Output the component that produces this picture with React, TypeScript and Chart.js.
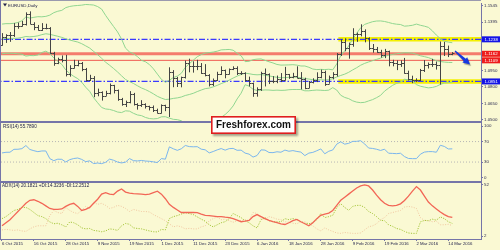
import React, { useEffect, useRef } from 'react';
import { Chart, registerables } from 'chart.js';

Chart.register(...registerables);

const FONT = '"Liberation Sans", Arial, sans-serif';
const BG = '#FAF9D3';
const AXIS = '#7575A8';

// ---------- x axis ----------
const tickIndex = [0, 8, 16, 24, 32, 40, 48, 56, 64, 72, 80, 88, 96, 104, 112];
const tickLabels = ['6 Oct 2015', '16 Oct 2015', '28 Oct 2015', '9 Nov 2015', '19 Nov 2015', '1 Dec 2015', '11 Dec 2015', '23 Dec 2015', '6 Jan 2016', '18 Jan 2016', '28 Jan 2016', '9 Feb 2016', '19 Feb 2016', '2 Mar 2016', '14 Mar 2016'];

// ---------- EURUSD daily OHLC ----------
const opens = [
  1.1190, 1.1255, 1.1274, 1.1276, 1.1358, 1.1359, 1.1376, 1.1474, 1.1382, 1.1350,
  1.1325, 1.1344, 1.1344, 1.1109, 1.1017, 1.1053, 1.1046, 1.0923, 1.0977, 1.1004,
  1.1016, 1.0962, 1.0863, 1.0880, 1.0742, 1.0753, 1.0721, 1.0747, 1.0814, 1.0768,
  1.0686, 1.0644, 1.0659, 1.0733, 1.0646, 1.0635, 1.0644, 1.0623, 1.0613, 1.0592,
  1.0565, 1.0632, 1.0613, 1.0939, 1.0883, 1.0838, 1.0893, 1.1025, 1.0995, 1.0989,
  1.0995, 1.0932, 1.0914, 1.0829, 1.0867, 1.0917, 1.0958, 1.0918, 1.0963, 1.0970,
  1.0926, 1.0930, 1.0860, 1.0833, 1.0747, 1.0781, 1.0927, 1.0921, 1.0857, 1.0853,
  1.0875, 1.0864, 1.0916, 1.0890, 1.0905, 1.0887, 1.0875, 1.0795, 1.0845, 1.0860,
  1.0894, 1.0935, 1.0830, 1.0888, 1.0919, 1.1105, 1.1210, 1.1157, 1.1193, 1.1288,
  1.1290, 1.1319, 1.1254, 1.1156, 1.1146, 1.1125, 1.1096, 1.1131, 1.1027, 1.1021,
  1.1014, 1.1023, 1.0933, 1.0872, 1.0868, 1.0867, 1.0953, 1.1000, 1.1011, 1.1011,
  1.0999, 1.1177, 1.1153, 1.1101,
];
const highs = [
  1.1295, 1.1285, 1.1305, 1.1387, 1.1392, 1.1407, 1.1486, 1.1495, 1.1395, 1.1370,
  1.1387, 1.1381, 1.1350, 1.1123, 1.1069, 1.1090, 1.1095, 1.1000, 1.1050, 1.1045,
  1.1030, 1.0975, 1.0912, 1.0900, 1.0785, 1.0760, 1.0765, 1.0832, 1.0820, 1.0776,
  1.0700, 1.0675, 1.0762, 1.0746, 1.0651, 1.0679, 1.0650, 1.0628, 1.0630, 1.0601,
  1.0640, 1.0637, 1.0981, 1.0955, 1.0893, 1.0895, 1.1043, 1.1060, 1.1036, 1.1050,
  1.1020, 1.1010, 1.0918, 1.0878, 1.0940, 1.0990, 1.0960, 1.0970, 1.0990, 1.0990,
  1.0945, 1.0935, 1.0895, 1.0840, 1.0797, 1.0940, 1.0970, 1.0925, 1.0900, 1.0905,
  1.0928, 1.0985, 1.0920, 1.0930, 1.0990, 1.0937, 1.0885, 1.0855, 1.0880, 1.0935,
  1.0960, 1.0950, 1.0905, 1.0936, 1.1112, 1.1238, 1.1247, 1.1208, 1.1340, 1.1300,
  1.1376, 1.1330, 1.1256, 1.1195, 1.1168, 1.1142, 1.1150, 1.1134, 1.1050, 1.1045,
  1.1045, 1.1067, 1.0950, 1.0904, 1.0880, 1.0966, 1.1047, 1.1025, 1.1058, 1.1034,
  1.1218, 1.1215, 1.1180, 1.1120,
];
const lows = [
  1.1180, 1.1205, 1.1215, 1.1260, 1.1335, 1.1355, 1.1365, 1.1378, 1.1322, 1.1318,
  1.1315, 1.1330, 1.1106, 1.0995, 1.1010, 1.1026, 1.0897, 1.0895, 1.0970, 1.0990,
  1.0945, 1.0850, 1.0855, 1.0706, 1.0715, 1.0675, 1.0718, 1.0732, 1.0741, 1.0673,
  1.0628, 1.0616, 1.0650, 1.0630, 1.0592, 1.0617, 1.0602, 1.0585, 1.0570, 1.0558,
  1.0557, 1.0578, 1.0524, 1.0798, 1.0800, 1.0797, 1.0878, 1.0935, 1.0932, 1.0955,
  1.0920, 1.0898, 1.0805, 1.0808, 1.0855, 1.0910, 1.0880, 1.0915, 1.0955, 1.0910,
  1.0910, 1.0850, 1.0805, 1.0710, 1.0711, 1.0764, 1.0805, 1.0827, 1.0835, 1.0835,
  1.0845, 1.0860, 1.0875, 1.0880, 1.0880, 1.0778, 1.0780, 1.0790, 1.0833, 1.0845,
  1.0880, 1.0810, 1.0830, 1.0870, 1.0896, 1.1085, 1.1128, 1.1060, 1.1170, 1.1215,
  1.1265, 1.1210, 1.1140, 1.1115, 1.1113, 1.1070, 1.1065, 1.0990, 1.0990, 1.0955,
  1.0985, 1.0922, 1.0859, 1.0835, 1.0845, 1.0855, 1.0938, 1.0970, 1.0985, 1.0960,
  1.0822, 1.1085, 1.1075, 1.1092,
];
const closes = [
  1.1255, 1.1274, 1.1276, 1.1358, 1.1359, 1.1376, 1.1474, 1.1382, 1.1350, 1.1325,
  1.1344, 1.1344, 1.1109, 1.1017, 1.1053, 1.1046, 1.0923, 1.0977, 1.1004, 1.1016,
  1.0962, 1.0863, 1.0880, 1.0742, 1.0753, 1.0721, 1.0747, 1.0814, 1.0768, 1.0686,
  1.0644, 1.0659, 1.0733, 1.0646, 1.0635, 1.0644, 1.0623, 1.0613, 1.0592, 1.0565,
  1.0632, 1.0613, 1.0939, 1.0883, 1.0838, 1.0893, 1.1025, 1.0995, 1.0989, 1.0995,
  1.0932, 1.0914, 1.0829, 1.0867, 1.0917, 1.0958, 1.0918, 1.0963, 1.0970, 1.0926,
  1.0930, 1.0860, 1.0833, 1.0747, 1.0781, 1.0927, 1.0921, 1.0857, 1.0853, 1.0875,
  1.0864, 1.0916, 1.0890, 1.0905, 1.0887, 1.0875, 1.0795, 1.0845, 1.0860, 1.0894,
  1.0935, 1.0830, 1.0888, 1.0919, 1.1105, 1.1210, 1.1157, 1.1193, 1.1288, 1.1290,
  1.1319, 1.1254, 1.1156, 1.1146, 1.1125, 1.1096, 1.1131, 1.1027, 1.1021, 1.1014,
  1.1023, 1.0933, 1.0872, 1.0868, 1.0867, 1.0953, 1.1000, 1.1011, 1.1011, 1.0999,
  1.1177, 1.1153, 1.1101, 1.1108,
];

// ---------- Bollinger bands ----------
const bbUpper = [
  1.1378, 1.1382, 1.1382, 1.1385, 1.1393, 1.1409, 1.1444, 1.1433, 1.1440, 1.1446,
  1.1445, 1.1449, 1.1460, 1.1483, 1.1496, 1.1504, 1.1529, 1.1540, 1.1546, 1.1549,
  1.1552, 1.1558, 1.1556, 1.1553, 1.1539, 1.1516, 1.1458, 1.1406, 1.1356, 1.1306,
  1.1241, 1.1157, 1.1122, 1.1106, 1.1079, 1.1045, 1.1032, 1.1006, 1.0967, 1.0918,
  1.0870, 1.0843, 1.0862, 1.0887, 1.0900, 1.0926, 1.0980, 1.1013, 1.1046, 1.1078,
  1.1098, 1.1111, 1.1116, 1.1121, 1.1129, 1.1141, 1.1143, 1.1145, 1.1138, 1.1110,
  1.1087, 1.1033, 1.1036, 1.1051, 1.1056, 1.1058, 1.1045, 1.1032, 1.1021, 1.1007,
  1.1001, 1.1002, 1.1003, 1.1005, 1.1001, 1.0993, 1.0993, 1.0981, 1.0965, 1.0960,
  1.0962, 1.0960, 1.0963, 1.0958, 1.1012, 1.1088, 1.1132, 1.1177, 1.1241, 1.1293,
  1.1344, 1.1375, 1.1388, 1.1400, 1.1406, 1.1407, 1.1402, 1.1393, 1.1383, 1.1377,
  1.1374, 1.1359, 1.1362, 1.1367, 1.1378, 1.1367, 1.1359, 1.1348, 1.1316, 1.1277,
  1.1244, 1.1221, 1.1212, 1.1207,
];
const bbMiddle = [
  1.1242, 1.1246, 1.1246, 1.1247, 1.1249, 1.1255, 1.1264, 1.1261, 1.1264, 1.1270,
  1.1281, 1.1289, 1.1284, 1.1275, 1.1266, 1.1256, 1.1243, 1.1232, 1.1222, 1.1213,
  1.1198, 1.1178, 1.1158, 1.1127, 1.1097, 1.1064, 1.1028, 1.1000, 1.0970, 1.0938,
  1.0903, 1.0869, 1.0850, 1.0832, 1.0811, 1.0791, 1.0776, 1.0758, 1.0737, 1.0714,
  1.0698, 1.0685, 1.0688, 1.0695, 1.0700, 1.0708, 1.0722, 1.0731, 1.0742, 1.0758,
  1.0772, 1.0785, 1.0790, 1.0801, 1.0815, 1.0831, 1.0845, 1.0863, 1.0882, 1.0900,
  1.0915, 1.0927, 1.0922, 1.0915, 1.0912, 1.0914, 1.0909, 1.0902, 1.0895, 1.0889,
  1.0885, 1.0886, 1.0889, 1.0891, 1.0889, 1.0885, 1.0879, 1.0873, 1.0867, 1.0866,
  1.0866, 1.0864, 1.0867, 1.0876, 1.0892, 1.0906, 1.0918, 1.0935, 1.0957, 1.0977,
  1.1000, 1.1017, 1.1030, 1.1042, 1.1054, 1.1065, 1.1082, 1.1091, 1.1099, 1.1105,
  1.1110, 1.1115, 1.1114, 1.1111, 1.1100, 1.1087, 1.1079, 1.1070, 1.1056, 1.1041,
  1.1034, 1.1029, 1.1026, 1.1025,
];
const bbLower = [
  1.1106, 1.1110, 1.1110, 1.1109, 1.1105, 1.1101, 1.1084, 1.1089, 1.1088, 1.1094,
  1.1117, 1.1129, 1.1108, 1.1067, 1.1036, 1.1008, 1.0957, 1.0924, 1.0898, 1.0877,
  1.0844, 1.0798, 1.0760, 1.0701, 1.0655, 1.0612, 1.0598, 1.0594, 1.0584, 1.0570,
  1.0565, 1.0581, 1.0578, 1.0558, 1.0543, 1.0537, 1.0520, 1.0510, 1.0507, 1.0510,
  1.0526, 1.0527, 1.0514, 1.0503, 1.0500, 1.0490, 1.0464, 1.0449, 1.0438, 1.0438,
  1.0446, 1.0459, 1.0464, 1.0481, 1.0501, 1.0521, 1.0547, 1.0581, 1.0626, 1.0690,
  1.0743, 1.0821, 1.0808, 1.0779, 1.0768, 1.0770, 1.0773, 1.0772, 1.0769, 1.0771,
  1.0769, 1.0770, 1.0775, 1.0777, 1.0777, 1.0777, 1.0765, 1.0765, 1.0769, 1.0772,
  1.0770, 1.0768, 1.0771, 1.0794, 1.0772, 1.0724, 1.0704, 1.0693, 1.0673, 1.0661,
  1.0656, 1.0659, 1.0672, 1.0684, 1.0702, 1.0723, 1.0762, 1.0789, 1.0815, 1.0833,
  1.0846, 1.0871, 1.0866, 1.0855, 1.0822, 1.0807, 1.0799, 1.0792, 1.0796, 1.0805,
  1.0824, 1.0837, 1.0840, 1.0843,
];

// ---------- RSI(14) ----------
const rsi = [
  47.8, 49.1, 49.2, 54.9, 55.0, 56.2, 62.3, 54.6, 52.2, 50.3,
  51.7, 51.7, 36.7, 32.7, 35.6, 35.3, 30.1, 34.7, 36.9, 37.9,
  35.2, 30.8, 32.3, 27.0, 28.1, 26.9, 29.5, 35.7, 33.5, 30.0,
  28.3, 29.8, 36.8, 32.7, 32.2, 33.1, 32.0, 31.5, 30.4, 29.0,
  36.8, 35.6, 59.7, 55.9, 52.9, 56.0, 62.4, 60.2, 59.8, 60.1,
  55.2, 53.9, 47.9, 50.6, 53.8, 56.4, 53.3, 56.2, 56.7, 53.0,
  53.3, 47.5, 45.5, 39.7, 42.8, 53.8, 53.4, 48.7, 48.4, 50.1,
  49.2, 53.4, 51.1, 52.4, 50.7, 49.5, 42.6, 47.5, 48.9, 52.1,
  55.7, 46.2, 51.1, 53.6, 65.0, 69.6, 65.0, 66.6, 70.4, 70.5,
  71.7, 65.5, 57.4, 56.6, 55.0, 52.7, 55.1, 47.3, 46.9, 46.4,
  47.2, 40.7, 37.0, 36.7, 36.7, 45.4, 49.5, 50.4, 50.4, 49.2,
  62.8, 60.5, 55.6, 55.8,
];
const rsiTicks = [100, 70, 30, 0];
const rsiLevels = [70, 30];

// ---------- ADX(14) ----------
const adx = [
  12, 15, 18, 22, 26, 30, 34, 37, 37.5, 36,
  34, 31.5, 29, 28, 28, 28.5, 31, 33, 34, 31,
  27, 28, 30, 34, 38, 43, 44.5, 43, 42.6, 46,
  48, 45, 44, 43.5, 43.3, 43, 42.6, 43, 44.5, 45.8,
  43, 38.5, 33, 30, 27.5, 25, 25, 25, 25, 24.9,
  23.5, 22.3, 22, 21.5, 21, 21, 20.5, 20.1, 19, 17.5,
  16, 16.5, 17.3, 21, 23, 21, 19, 17.3, 16, 15,
  14, 13.3, 15, 17, 18.2, 16, 14, 12, 15, 19,
  22.3, 23.5, 24.5, 27, 32, 37, 40, 43, 46, 49,
  51, 52, 51, 47, 42, 37.5, 34, 32, 31.5, 32,
  33.5, 36.8, 41, 46, 50.4, 47, 41, 35.2, 31.5, 28.5,
  25.5, 23, 21, 20.2,
];
const plusDI = [
  19, 21, 24, 27, 28, 30, 30, 28, 25, 22,
  21, 19, 15.8, 14, 14.5, 13, 11, 15.8, 15, 13,
  10, 9, 9.4, 7.5, 7, 6.2, 7, 9, 8.5, 7.5,
  12, 14.3, 13.5, 10, 9.4, 9, 8, 7, 6.2, 6,
  8.5, 8, 19.1, 21, 22, 23.5, 24.9, 24, 23, 20.7,
  18.5, 16.5, 13, 11, 13, 15, 16, 19, 24, 22,
  20, 17, 15, 12, 10, 18, 20, 17, 16, 15.8,
  16, 19, 18, 19.1, 18, 16, 14.3, 14, 15, 18,
  24, 20, 21, 22.3, 30, 33.6, 30, 27.2, 31, 32,
  32, 30, 26, 24, 21, 17.3, 17, 13, 11.5, 9.4,
  8.5, 6.5, 5, 4.6, 4.6, 15.8, 17.3, 17, 18.5, 17.5,
  20.7, 19, 16, 14.3,
];
const minusDI = [
  8, 8.5, 8, 7.5, 8, 7, 6.5, 9, 11, 12,
  12, 12, 22, 27, 25, 24, 30, 27, 25, 24,
  27, 31, 29, 35, 33, 34, 32, 29, 30, 32,
  31, 29, 26, 28, 27, 26, 26, 25.5, 23, 21,
  19, 17, 14, 11, 12, 11, 9, 9.5, 9, 9,
  11, 12, 17, 19, 20.7, 18, 18.5, 17, 15.5, 17,
  17, 18, 17.3, 25, 24, 19, 18, 21, 20, 18.5,
  18, 16, 15.5, 14.5, 14, 16, 16, 14, 12, 9,
  7, 10, 8, 6.5, 5, 4.6, 5.5, 5, 4.6, 4.6,
  5, 8, 11, 12, 14, 18, 20, 24, 25, 26,
  27, 30.3, 31, 30.3, 29, 20, 17.3, 17, 16, 16.5,
  13, 13, 13.5, 12.25,
];
const adxTicks = [52, 2];

// ---------- price axis and levels ----------
const priceTicks = [1.05, 1.065, 1.08, 1.095, 1.1395, 1.1545];
const blueLevels = [1.1238, 1.0851];
const blueLevelLabels = ['1.1238', '1.0851'];
const yellowZoneStart = 84.4;
const redLevels = [1.1105, 1.1045];
const redLevelLabels = ['1.1162', '1.1109'];

const X_MIN = -0.5;
const X_MAX = 120.2;

const mtPlugin = {
  id: 'mt',
  beforeDraw(chart: any) {
    const { ctx, width, height } = chart;
    ctx.save();
    ctx.fillStyle = BG;
    ctx.fillRect(0, 0, width, height);
    ctx.restore();
  },
  beforeDatasetDraw(chart: any, args: any) {
    const ys = chart.scales[args.meta.yAxisID];
    const { ctx, chartArea } = chart;
    ctx.save();
    ctx.beginPath();
    ctx.rect(chartArea.left, ys.top, chartArea.right - chartArea.left, ys.bottom - ys.top);
    ctx.clip();
  },
  afterDatasetDraw(chart: any) {
    chart.ctx.restore();
  },
  afterDatasetsDraw(chart: any) {
    const { ctx, chartArea } = chart;
    const xs = chart.scales.x;
    const yp = chart.scales.yP;
    ctx.save();
    ctx.beginPath();
    ctx.rect(chartArea.left, yp.top, chartArea.right - chartArea.left, yp.bottom - yp.top);
    ctx.clip();
    ctx.strokeStyle = '#444444';
    ctx.lineWidth = 1;
    ctx.beginPath();
    for (let i = 0; i < closes.length; i++) {
      const x = Math.round(xs.getPixelForValue(i)) + 0.5;
      const yh = yp.getPixelForValue(highs[i]);
      const yl = yp.getPixelForValue(lows[i]);
      const yo = Math.round(yp.getPixelForValue(opens[i])) + 0.5;
      const yc = Math.round(yp.getPixelForValue(closes[i])) + 0.5;
      ctx.moveTo(x, yh);
      ctx.lineTo(x, yl);
      ctx.moveTo(x - 2, yo);
      ctx.lineTo(x, yo);
      ctx.moveTo(x, yc);
      ctx.lineTo(x + 2, yc);
    }
    ctx.stroke();
    ctx.restore();
  },
  afterDraw(chart: any) {
    const { ctx, chartArea } = chart;
    const yp = chart.scales.yP;
    const yr = chart.scales.yR;
    const ya = chart.scales.yA;
    ctx.save();
    // borders / separators
    ctx.fillStyle = '#9A9AAE';
    ctx.fillRect(0, 0, chartArea.right, 1);
    ctx.fillStyle = AXIS;
    ctx.fillRect(0, 0, 1, chartArea.bottom);
    ctx.fillRect(0, Math.round(yp.bottom) - 1, chartArea.right + 1, 2);
    ctx.fillRect(0, Math.round(yr.bottom) - 1, chartArea.right + 1, 2);

    // panel captions
    ctx.fillStyle = '#23234A';
    ctx.beginPath();
    ctx.moveTo(3, 3.5);
    ctx.lineTo(7, 3.5);
    ctx.lineTo(5, 6.5);
    ctx.closePath();
    ctx.fill();
    ctx.textBaseline = 'middle';
    ctx.textAlign = 'left';
    ctx.font = `4.4px ${FONT}`;
    ctx.fillText('EURUSD,Daily', 8, 5.5);
    ctx.font = `4.6px ${FONT}`;
    ctx.fillText('RSI(14) 55.7890', 3, yr.top + 4.5);
    ctx.fillText('ADX(14) 20.1821 +DI:14.3236 -DI:12.2512', 2, ya.top + 4.5);

    // level labels on the price axis
    const boxes = [
      { v: blueLevels[0], t: blueLevelLabels[0], c: '#1414E6' },
      { v: redLevels[0], t: redLevelLabels[0], c: '#EE1C1C' },
      { v: redLevels[1], t: redLevelLabels[1], c: '#EE1C1C' },
      { v: blueLevels[1], t: blueLevelLabels[1], c: '#1414E6' },
    ];
    ctx.font = `4.4px ${FONT}`;
    for (const b of boxes) {
      const y = yp.getPixelForValue(b.v);
      ctx.fillStyle = b.c;
      ctx.fillRect(chartArea.right + 1, y - 3, 19, 6);
      ctx.fillStyle = '#FFFFFF';
      ctx.fillText(b.t, chartArea.right + 3.5, y + 0.2);
    }

    // watermark
    const bx = 211, by = 116, bw = 85, bh = 18;
    ctx.save();
    ctx.shadowColor = 'rgba(0,0,0,0.35)';
    ctx.shadowOffsetX = 2;
    ctx.shadowOffsetY = 2;
    ctx.shadowBlur = 2;
    ctx.fillStyle = '#FFFFFF';
    ctx.fillRect(bx, by, bw, bh);
    ctx.restore();
    ctx.strokeStyle = '#E01E1E';
    ctx.lineWidth = 1.6;
    ctx.strokeRect(bx + 0.8, by + 0.8, bw - 1.6, bh - 1.6);
    ctx.fillStyle = '#111111';
    ctx.font = `bold 10px ${FONT}`;
    ctx.textAlign = 'center';
    ctx.fillText('Freshforex.com', bx + bw / 2, by + bh / 2 + 0.5);

    // blue arrow
    const x0 = 455, y0 = 51, tipX = 470, tipY = 64.5;
    const dx = tipX - x0, dy = tipY - y0;
    const len = Math.sqrt(dx * dx + dy * dy);
    const ux = dx / len, uy = dy / len;
    const px = -uy, py = ux;
    const hx = tipX - 7 * ux, hy = tipY - 7 * uy;
    ctx.save();
    ctx.shadowColor = 'rgba(0,0,0,0.35)';
    ctx.shadowOffsetX = 1;
    ctx.shadowOffsetY = 1.5;
    ctx.shadowBlur = 1;
    ctx.fillStyle = '#1838E0';
    ctx.beginPath();
    ctx.moveTo(x0 + px * 0.6, y0 + py * 0.6);
    ctx.lineTo(hx + px * 1.5, hy + py * 1.5);
    ctx.lineTo(hx + px * 3.6, hy + py * 3.6);
    ctx.lineTo(tipX, tipY);
    ctx.lineTo(hx - px * 3.6, hy - py * 3.6);
    ctx.lineTo(hx - px * 1.5, hy - py * 1.5);
    ctx.lineTo(x0 - px * 0.6, y0 - py * 0.6);
    ctx.closePath();
    ctx.fill();
    ctx.restore();
    ctx.restore();
  },
};

export default function App() {
  const canvasRef = useRef<HTMLCanvasElement | null>(null);

  useEffect(() => {
    const canvas = canvasRef.current;
    if (!canvas) return;
    Chart.defaults.font.family = FONT;

    const series = (arr: number[]) => arr.map((y, i) => ({ x: i, y }));
    const hLine = (y: number, a: number, b: number) => [{ x: a, y }, { x: b, y }];
    const base = { pointRadius: 0, borderWidth: 1, tension: 0, fill: false, xAxisID: 'x' };

    const datasets: any[] = [
      ...blueLevels.map((v) => ({ ...base, yAxisID: 'yP', data: hLine(v, yellowZoneStart, X_MAX + 2), borderColor: '#F4F000', borderWidth: 4.5, order: 20 })),
      { ...base, yAxisID: 'yP', data: hLine(redLevels[0], X_MIN - 2, X_MAX + 2), borderColor: '#F47C6C', borderWidth: 3, order: 19 },
      { ...base, yAxisID: 'yP', data: hLine(redLevels[1], X_MIN - 2, X_MAX + 2), borderColor: '#F05A50', borderWidth: 1, order: 18 },
      ...blueLevels.map((v) => ({ ...base, yAxisID: 'yP', data: hLine(v, X_MIN - 2, X_MAX + 2), borderColor: '#3A3AFF', borderWidth: 1.2, borderDash: [6, 2, 1.5, 2], order: 17 })),
      { ...base, yAxisID: 'yP', data: series(bbUpper), borderColor: '#90D690', order: 16 },
      { ...base, yAxisID: 'yP', data: series(bbMiddle), borderColor: '#90D690', order: 15 },
      { ...base, yAxisID: 'yP', data: series(bbLower), borderColor: '#90D690', order: 14 },
      ...rsiLevels.map((v) => ({ ...base, yAxisID: 'yR', data: hLine(v, X_MIN - 2, X_MAX + 2), borderColor: '#B4B4B4', borderDash: [1, 2], order: 13 })),
      { ...base, yAxisID: 'yR', data: series(rsi), borderColor: '#7AB6EE', order: 12 },
      { ...base, yAxisID: 'yA', data: series(minusDI), borderColor: '#F2C7A0', borderDash: [1, 1.5], order: 11 },
      { ...base, yAxisID: 'yA', data: series(plusDI), borderColor: '#A6C63A', borderDash: [1.2, 1.3], order: 10 },
      { ...base, yAxisID: 'yA', data: series(adx), borderColor: '#F26656', borderWidth: 1.3, order: 9 },
    ];

    const yCommon = (ticksArr: number[], fmt: (v: number) => string) => ({
      type: 'linear',
      position: 'right',
      stack: 'panes',
      afterBuildTicks: (s: any) => { s.ticks = ticksArr.map((v) => ({ value: v })); },
      afterFit: (s: any) => { s.width = 19; },
      ticks: { callback: (v: any) => fmt(Number(v)), font: { size: 4.4, family: FONT }, color: '#2C2C50', padding: 1, autoSkip: false },
      grid: { drawOnChartArea: false, drawTicks: true, tickLength: 2, color: AXIS },
      border: { display: true, color: AXIS, width: 1 },
    });

    const chart = new Chart(canvas, {
      type: 'line',
      data: { datasets },
      options: {
        animation: false,
        responsive: false,
        maintainAspectRatio: false,
        devicePixelRatio: 1,
        events: [],
        layout: { padding: { top: 1, left: 0, right: 0, bottom: 0 } },
        plugins: { legend: { display: false }, tooltip: { enabled: false }, title: { display: false } },
        scales: {
          x: {
            type: 'linear',
            position: 'bottom',
            min: X_MIN,
            max: X_MAX,
            afterBuildTicks: (s: any) => { s.ticks = tickIndex.map((v) => ({ value: v })); },
            afterFit: (s: any) => { s.height = 11; },
            ticks: {
              callback: (v: any) => { const k = tickIndex.indexOf(Number(v)); return k >= 0 ? tickLabels[k] : ''; },
              align: 'start',
              autoSkip: false,
              maxRotation: 0,
              minRotation: 0,
              font: { size: 4.3, family: FONT },
              color: '#22224A',
              padding: 0,
            },
            grid: { drawOnChartArea: false, drawTicks: true, tickLength: 2, color: AXIS },
            border: { display: true, color: AXIS, width: 1 },
          },
          yP: { ...yCommon(priceTicks, (v) => v.toFixed(4)), stackWeight: 120, min: 1.04755, max: 1.15659 },
          yR: { ...yCommon(rsiTicks, (v) => String(v)), stackWeight: 60, min: -8.3, max: 107.7 },
          yA: { ...yCommon(adxTicks, (v) => String(v)), stackWeight: 58, min: -0.9, max: 55.2 },
        },
      } as any,
      plugins: [mtPlugin as any],
    });

    return () => chart.destroy();
  }, []);

  return (
    <div style={{ position: 'absolute', left: 0, top: 0, width: 500, height: 250 }}>
      <canvas ref={canvasRef} width={500} height={250} style={{ display: 'block', width: 500, height: 250 }} />
    </div>
  );
}
